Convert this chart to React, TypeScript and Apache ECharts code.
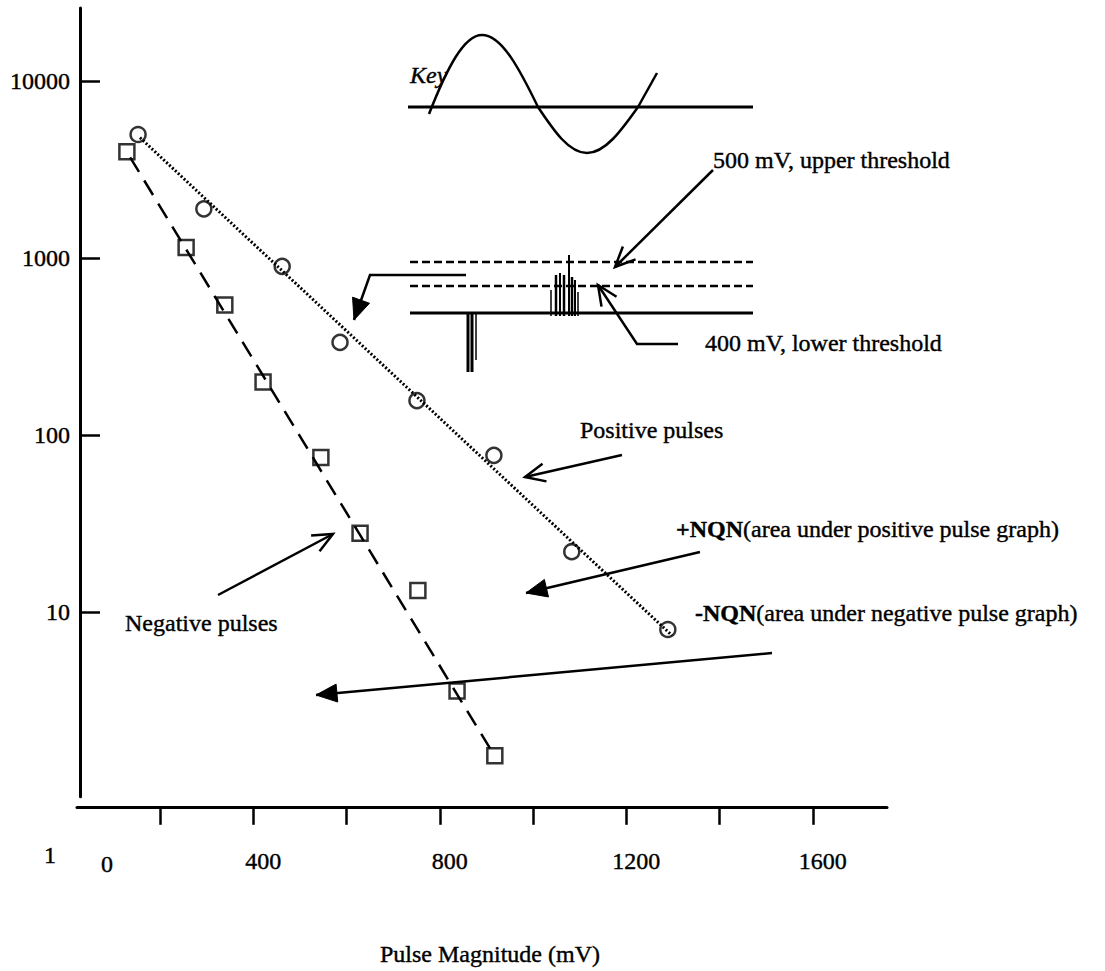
import React, { useEffect, useRef } from 'react';
import * as echarts from 'echarts';

// ---- data ----
const positiveMV = [153, 294, 462, 586, 751, 916, 1083, 1289];
const positiveCount = [5000, 1900, 900, 335, 157, 77, 22, 8];
const negativeMV = [129, 256, 339, 421, 545, 629, 753, 837, 918];
const negativeCount = [4000, 1150, 545, 200, 75, 28, 13.3, 3.6, 1.55];
const positiveFitMV = [157, 1298];
const positiveFitCount = [4800, 7.4];
const negativeFitMV = [136, 914];
const negativeFitCount = [3710, 1.6];
const xTickValues = [200, 400, 600, 800, 1000, 1200, 1400, 1600];
const xLabelValues = [400, 800, 1200, 1600];
const yTickValues = [10, 100, 1000, 10000];
const xCornerLabel = '0';
const yCornerLabel = '1';
const xAxisTitle = 'Pulse Magnitude (mV)';

const FONT = '"Liberation Serif", "Times New Roman", serif';

type Pt = [number, number];

function head(a: Pt, b: Pt, len: number, half: number): Pt[] {
  const ang = Math.atan2(b[1] - a[1], b[0] - a[0]);
  const bx = b[0] - len * Math.cos(ang);
  const by = b[1] - len * Math.sin(ang);
  const px = -Math.sin(ang) * half;
  const py = Math.cos(ang) * half;
  return [[bx + px, by + py], [b[0], b[1]], [bx - px, by - py]];
}

function arrow(pts: Pt[], filled: boolean): any[] {
  const els: any[] = [];
  els.push({
    type: 'polyline',
    shape: { points: pts },
    style: { stroke: '#000', lineWidth: 2.5, fill: null },
    silent: true,
    z: 100,
  });
  const a = pts[pts.length - 2];
  const b = pts[pts.length - 1];
  if (filled) {
    els.push({
      type: 'polygon',
      shape: { points: head(a, b, 21, 9) },
      style: { fill: '#000', stroke: '#000', lineWidth: 1 },
      silent: true,
      z: 100,
    });
  } else {
    els.push({
      type: 'polyline',
      shape: { points: head(a, b, 20, 9) },
      style: { stroke: '#000', lineWidth: 2.5, fill: null },
      silent: true,
      z: 100,
    });
  }
  return els;
}

function txt(text: string, x: number, y: number, opts: any = {}): any {
  return {
    type: 'text',
    x,
    y,
    silent: true,
    z: 100,
    style: {
      text,
      fill: '#000',
      fontFamily: FONT,
      fontSize: 24,
      fontStyle: opts.italic ? 'italic' : 'normal',
      align: opts.align || 'left',
      textAlign: opts.align || 'left',
      verticalAlign: 'middle',
      textVerticalAlign: 'middle',
      stroke: '#000',
      lineWidth: 0.4,
      rich: {
        b: { fontFamily: FONT, fontSize: 24, fontWeight: 'bold', fill: '#000' },
      },
    },
  };
}

function ln(x1: number, y1: number, x2: number, y2: number, w = 2, dash?: number[]): any {
  return {
    type: 'line',
    shape: { x1, y1, x2, y2 },
    style: { stroke: '#000', lineWidth: w, lineDash: dash || null },
    silent: true,
    z: 100,
  };
}

function bez(p0: Pt, c1: Pt, c2: Pt, p3: Pt): any {
  return {
    type: 'bezierCurve',
    shape: { x1: p0[0], y1: p0[1], cpx1: c1[0], cpy1: c1[1], cpx2: c2[0], cpy2: c2[1], x2: p3[0], y2: p3[1] },
    style: { stroke: '#000', lineWidth: 2.5, fill: null },
    silent: true,
    z: 100,
  };
}

function buildGraphics(): any[] {
  const g: any[] = [];
  // Key: sine wave
  g.push(ln(408, 107, 753, 107, 3));
  g.push(bez([429, 114], [447, 68], [464, 35], [482, 35]));
  g.push(bez([482, 35], [502, 35], [520, 70], [538, 107]));
  g.push(bez([538, 107], [554, 131], [569, 153], [587, 153]));
  g.push(bez([587, 153], [605, 153], [621, 131], [638, 107]));
  g.push(ln(638, 107, 657, 73, 2.5));
  g.push(txt('Key', 410, 75, { italic: true }));

  // thresholds diagram
  g.push(ln(410, 262, 753, 262, 2.5, [8, 4]));
  g.push(ln(410, 286, 753, 286, 2.5, [8, 4]));
  g.push(ln(410, 313, 753, 313, 3));
  // positive pulse spikes
  const spikes: [number, number, number][] = [
    [551, 290, 1.5], [556, 275, 2.5], [560, 273, 2], [564, 275, 2.5],
    [569, 255, 2], [572, 277, 2.5], [575, 280, 2], [578, 292, 1.5],
  ];
  spikes.forEach(([x, top, w]) => g.push(ln(x, top, x, 316, w)));
  // negative pulse spikes
  g.push(ln(468, 313, 468, 372, 3));
  g.push(ln(472, 313, 472, 372, 3));
  g.push(ln(476, 313, 476, 360, 1.5));

  // arrows
  g.push(...arrow([[466, 275], [370, 275], [354, 320]], true));
  g.push(...arrow([[713, 170], [615, 267]], false));
  g.push(...arrow([[678, 344], [637, 344], [598, 285]], false));
  g.push(...arrow([[622, 455], [525, 477]], false));
  g.push(...arrow([[700, 552], [526, 593]], true));
  g.push(...arrow([[772, 653], [316, 695]], true));
  g.push(...arrow([[218, 595], [333, 534]], false));

  // texts
  g.push(txt('500 mV, upper threshold', 713, 160));
  g.push(txt('400 mV, lower threshold', 705, 343));
  g.push(txt('Positive pulses', 580, 430));
  g.push(txt('{b|+NQN}(area under positive pulse graph)', 676, 529));
  g.push(txt('{b|-NQN}(area under negative pulse graph)', 695, 613));
  g.push(txt('Negative pulses', 125, 623));
  g.push(txt(yCornerLabel, 50, 855, { align: 'center' }));
  g.push(txt(xCornerLabel, 107, 864, { align: 'center' }));
  return g;
}

export default function App() {
  const ref = useRef<HTMLDivElement>(null);
  useEffect(() => {
    if (!ref.current) return;
    const chart = echarts.init(ref.current, undefined, { renderer: 'svg' });
    const labelStyle = {
      color: '#000',
      fontFamily: FONT,
      fontSize: 24,
      textBorderColor: '#000',
      textBorderWidth: 0.4,
    };
    const option: any = {
      animation: false,
      backgroundColor: '#fff',
      grid: { left: 77, top: 8, width: 810, height: 802, containLabel: false },
      xAxis: {
        type: 'value',
        min: 22,
        max: 1759,
        offset: 10,
        axisLine: { onZero: false, lineStyle: { color: '#000', width: 3 } },
        axisTick: {
          show: true,
          inside: false,
          length: 18,
          customValues: xTickValues,
          lineStyle: { color: '#000', width: 2.5 },
        },
        axisLabel: {
          ...labelStyle,
          customValues: xLabelValues,
          margin: 42,
          verticalAlign: 'top',
          padding: [0, 0, 0, 20],
          formatter: (v: number) => String(v),
        },
        splitLine: { show: false },
        name: xAxisTitle,
        nameLocation: 'middle',
        nameGap: 135,
        nameTextStyle: { ...labelStyle, padding: [0, 0, 0, 16] },
      },
      yAxis: {
        type: 'log',
        logBase: 10,
        min: 0.908,
        max: 25900,
        offset: -3,
        axisLine: { onZero: false, lineStyle: { color: '#000', width: 3 } },
        axisTick: {
          show: true,
          inside: true,
          length: 20,
          customValues: yTickValues,
          lineStyle: { color: '#000', width: 2.5 },
        },
        axisLabel: {
          ...labelStyle,
          customValues: yTickValues,
          margin: 10,
          formatter: (v: number) => String(Math.round(v)),
        },
        splitLine: { show: false },
      },
      series: [
        {
          name: 'Positive fit',
          type: 'line',
          data: positiveFitMV.map((x, i) => [x, positiveFitCount[i]]),
          symbol: 'none',
          lineStyle: { color: '#000', width: 3, type: [2, 2] },
          silent: true,
        },
        {
          name: 'Negative fit',
          type: 'line',
          data: negativeFitMV.map((x, i) => [x, negativeFitCount[i]]),
          symbol: 'none',
          lineStyle: { color: '#000', width: 2.5, type: [17, 10] },
          silent: true,
        },
        {
          name: 'Positive pulses',
          type: 'scatter',
          data: positiveMV.map((x, i) => [x, positiveCount[i]]),
          symbol: 'circle',
          symbolSize: 15,
          itemStyle: { color: '#fff', borderColor: '#000', borderWidth: 2.5 },
        },
        {
          name: 'Negative pulses',
          type: 'scatter',
          data: negativeMV.map((x, i) => [x, negativeCount[i]]),
          symbol: 'rect',
          symbolSize: 15,
          itemStyle: { color: '#fff', borderColor: '#000', borderWidth: 2.5 },
        },
      ],
      graphic: buildGraphics(),
    };
    chart.setOption(option);
    return () => chart.dispose();
  }, []);
  return (
    <div
      ref={ref}
      style={{ position: 'fixed', left: 0, top: 0, width: 1105, height: 971, background: '#fff' }}
    />
  );
}
